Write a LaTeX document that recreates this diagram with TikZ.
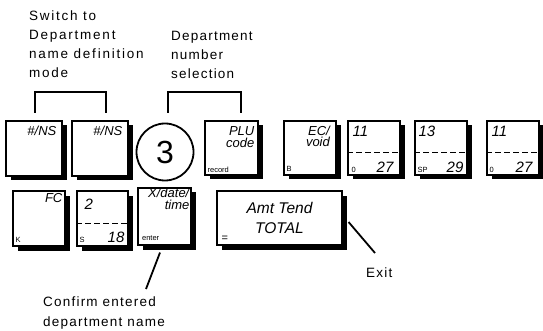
\documentclass[tikz,border=0pt]{standalone}
\usepackage{fontspec}
\setmainfont{Liberation Sans}
\newfontfamily\lblfont[LetterSpace=13]{Liberation Sans}
\newfontfamily\lblfontb[LetterSpace=9]{Liberation Sans}
\newcommand\keyshape[5]{%
  \fill[black] ({#2-#4/2+4.5},{#3-#5/2+4.5}) rectangle ({#2+#4/2+4.5},{#3+#5/2+4.5});
  \node[keybox, minimum width=#4pt, minimum height=#5pt] (#1) at (#2,#3) {};}
\begin{document}
\begin{tikzpicture}[x=1pt,y=-1pt,
  keybox/.style={draw, fill=white, line width=1.1pt, inner sep=0pt},
  lbl/.style={font=\lblfont\fontsize{13.5}{19}\selectfont, inner sep=0pt, anchor=base west},
  lblb/.style={font=\lblfontb\fontsize{13.5}{19}\selectfont, inner sep=0pt, anchor=base west},
  kt/.style={font=\itshape\fontsize{13}{10.5}\selectfont, inner sep=0pt},
  kn/.style={font=\itshape\fontsize{15}{15}\selectfont, inner sep=0pt},
  ks/.style={font=\fontsize{7.5}{7.5}\selectfont, inner sep=0pt, anchor=base west},
  brk/.style={line width=2pt},
  lead/.style={line width=1.8pt},
  dsh/.style={line width=0.9pt, dash pattern=on 6pt off 3pt}]
\useasboundingbox (0,0) rectangle (543,331);

% row 1 keys
\keyshape{ns1}{34}{148.5}{56}{55}
\keyshape{ns2}{100}{148.5}{56}{55}
\node[draw, circle, line width=1.8pt, minimum size=57pt, inner sep=0pt,
  font=\fontsize{32}{32}\selectfont] (three) at (165,152) {3};
\keyshape{plu}{231.5}{148}{53}{54}
\keyshape{ec}{310}{148}{52}{54}
\keyshape{oa}{374}{148}{52}{54}
\keyshape{sp}{441}{148}{52}{54}
\keyshape{ob}{513}{148}{52}{54}

% row 2 keys
\keyshape{fc}{39}{218.5}{52}{55}
\keyshape{s2}{102.5}{218.5}{51}{55}
\keyshape{xd}{164.5}{216.5}{53}{57}
\keyshape{amt}{279.5}{218}{125}{54}
\node[align=center, inner sep=0pt, font=\itshape\fontsize{15.5}{20}\selectfont]
  (amtt) at (amt) {Amt Tend\\TOTAL};

% key texts
\node[kt, anchor=base east] (ns1t) at ([xshift=-6pt,yshift=-15.5pt]ns1.north east) {\#/NS};
\node[kt, anchor=base east] (ns2t) at ([xshift=-6pt,yshift=-15.5pt]ns2.north east) {\#/NS};
\node[kt, anchor=base east] (plut) at ([xshift=-4pt,yshift=-15.5pt]plu.north east) {PLU};
\node[kt, anchor=base east] (pluc) at ([xshift=-4pt,yshift=-27pt]plu.north east) {code};
\node[ks] (plur) at ([xshift=3pt,yshift=3.5pt]plu.south west) {record};
\node[kt, anchor=base east] (ect) at ([xshift=-6.5pt,yshift=-15pt]ec.north east) {EC/};
\node[kt, anchor=base east] (ecv) at ([xshift=-6.5pt,yshift=-26.5pt]ec.north east) {void};
\node[ks] (ecb) at ([xshift=3pt,yshift=4.5pt]ec.south west) {B};

\node[kn, anchor=base west] (oat) at ([xshift=5pt,yshift=-16pt]oa.north west) {11};
\draw[dsh] ([yshift=-32pt]oa.north west) -- ([yshift=-32pt]oa.north east);
\node[ks] (oas) at ([xshift=4pt,yshift=3.5pt]oa.south west) {0};
\node[kn, anchor=base east] (oan) at ([xshift=-7pt,yshift=3pt]oa.south east) {27};

\node[kn, anchor=base west] (spt) at ([xshift=4pt,yshift=-16pt]sp.north west) {13};
\draw[dsh] ([yshift=-32pt]sp.north west) -- ([yshift=-32pt]sp.north east);
\node[ks] (sps) at ([xshift=3pt,yshift=3.5pt]sp.south west) {SP};
\node[kn, anchor=base east] (spn) at ([xshift=-4pt,yshift=3pt]sp.south east) {29};

\node[kn, anchor=base west] (obt) at ([xshift=5pt,yshift=-16pt]ob.north west) {11};
\draw[dsh] ([yshift=-32pt]ob.north west) -- ([yshift=-32pt]ob.north east);
\node[ks] (obs) at ([xshift=3pt,yshift=3.5pt]ob.south west) {0};
\node[kn, anchor=base east] (obn) at ([xshift=-7pt,yshift=3pt]ob.south east) {27};

\node[kt, anchor=base east] (fct) at ([xshift=-3pt,yshift=-12.3pt]fc.north east) {FC};
\node[ks] (fck) at ([xshift=3pt,yshift=4pt]fc.south west) {K};

\node[kn, anchor=base west] (s2t) at ([xshift=8pt,yshift=-19pt]s2.north west) {2};
\draw[dsh] ([yshift=-33pt]s2.north west) -- ([yshift=-33pt]s2.north east);
\node[ks] (s2s) at ([xshift=3pt,yshift=4pt]s2.south west) {S};
\node[kn, anchor=base east] (s2n) at ([xshift=-4pt,yshift=3.7pt]s2.south east) {18};

\node[kt, anchor=base east] (xdt) at ([xshift=-2pt,yshift=-10.5pt]xd.north east) {X/date/};
\node[kt, anchor=base east] (xdm) at ([xshift=-2pt,yshift=-22pt]xd.north east) {time};
\node[ks] (xde) at ([xshift=4.5pt,yshift=5.5pt]xd.south west) {enter};
\node[font=\fontsize{11}{11}\selectfont, inner sep=0pt, anchor=base west] (amte)
  at ([xshift=5pt,yshift=4pt]amt.south west) {=};

% brackets
\coordinate (b1l) at (35,113);
\coordinate (b1r) at (106,113);
\draw[brk] (b1l) -- ++(0,-21) -| (b1r);
\coordinate (b2l) at (168,113);
\coordinate (b2r) at (241,113);
\draw[brk] (b2l) -- ++(0,-21) -| (b2r);

% labels
\node[lbl] (sw1) at (29,20.5) {Switch to};
\node[lbl] (sw2) at (29,39.5) {Department};
\node[lbl] (sw3) at (29,58.5) {name definition};
\node[lbl] (sw4) at (29,78) {mode};
\node[lblb] (dn1) at (171,41) {Department};
\node[lblb] (dn2) at (171,60) {number};
\node[lblb] (dn3) at (171,79) {selection};
\node[lblb] (cf1) at (43,306.5) {Confirm entered};
\node[lblb] (cf2) at (43,326) {department name};
\node[lblb] (ex) at (366,277) {Exit};

% leaders
\coordinate (cfe) at (146,289);
\draw[lead] ([xshift=-4.5pt,yshift=-7pt]xd.south) -- (cfe);
\coordinate (exe) at (375,253);
\draw[lead] ([xshift=6pt,yshift=-4pt]amt.east) -- (exe);
\end{tikzpicture}
\end{document}
